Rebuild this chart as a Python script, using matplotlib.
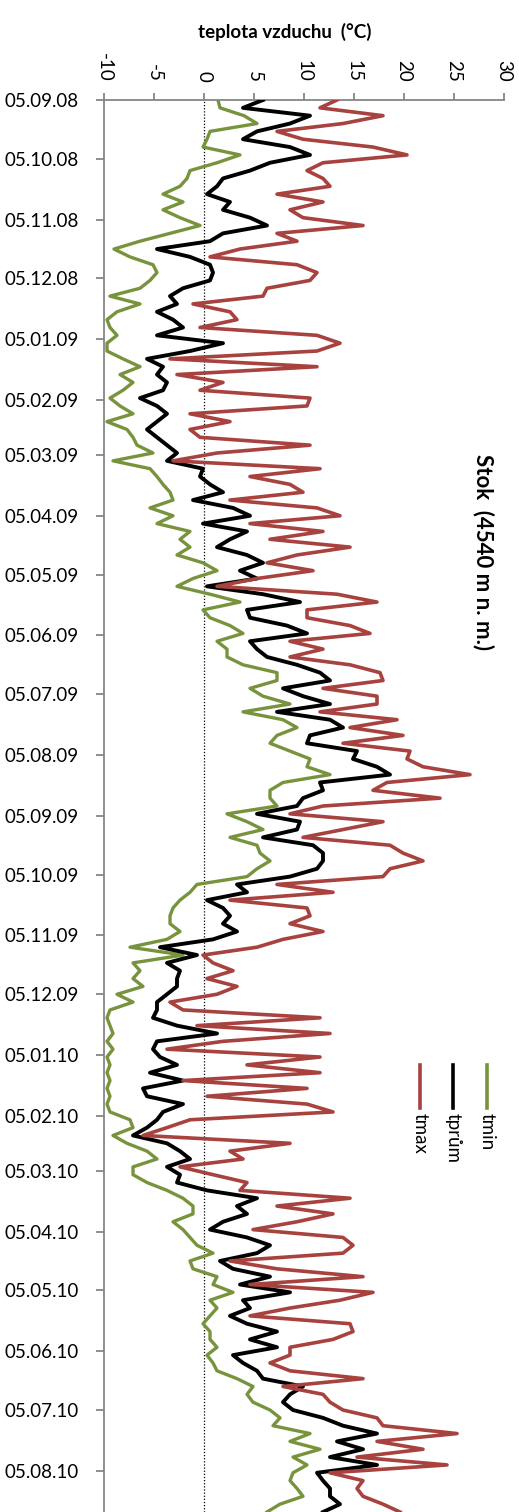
import numpy as np
import matplotlib.pyplot as plt
import matplotlib.dates as mdates
from matplotlib.lines import Line2D

plt.rcParams['font.family'] = ['Lato', 'DejaVu Sans']

# daily series read every 4 days, starting 05.09.2008
start = np.datetime64('2008-09-05')
step = 4

tmin = [1.4, 1.6, 4.0, 5.3, 0.6, 0.3, -0.1, 3.6, 1.3, -1.4, -1.7, -2.4, -4.1, -2.1, -4.1, -2.4,
        -0.4, -3.4, -6.4, -9.0, -7.4, -5.1, -4.7, -5.4, -6.4, -9.4, -6.4, -8.7, -9.7, -9.4, -8.7, -9.7,
        -9.7,
        -8.1, -6.4, -8.4, -7.1, -8.1, -9.4, -8.4, -7.1, -9.7, -7.7, -7.1, -6.7, -5.1, -9.1, -5.4, -4.7,
        -4.1, -3.4, -3.1, -5.4, -3.1, -4.7, -1.4, -2.4, -1.4, -2.7, -0.1, 1.3, -1.1, -2.7, 0.6, 3.6,
        -0.1,
        0.6, 2.6, 3.9, 1.3, 2.3, 2.3, 3.9, 7.3, 7.3, 4.6, 5.9, 8.6, 3.9, 7.9, 9.3, 7.3,
        6.6,
        8.6, 10.6, 10.3, 12.6, 7.9, 6.6, 6.6, 7.3, 2.3, 4.3, 5.9, 2.6, 5.3, 5.6, 6.6, 5.3,
        4.3, -0.7, -1.4, -2.4, -3.1, -3.4, -3.4, -2.4, -3.7, -7.4, -2.1, -7.1, -6.4, -7.1, -6.1, -8.7, -7.1,
        -9.4, -9.7, -9.4, -9.1, -9.7, -9.1, -9.7, -9.4, -9.7, -9.4, -9.7, -9.4, -9.7, -9.4, -7.4, -7.1,
        -9.1, -7.7, -5.7, -4.7, -7.1, -7.1, -5.7, -3.7, -2.1, -1.1, -1.1, -3.1, -2.1, -1.4, -0.7, 0.9, -1.4,
        -1.1, 1.3, 0.9, 2.9, 0.6, 1.3, 0.6, -0.1, 0.6, 0.6, 1.3, 0.3, 0.9, 1.3, 3.3, 4.9, 4.3,
        4.9, 6.6, 7.6, 6.9, 10.6, 8.6, 11.6, 8.9, 10.3, 8.9, 8.6, 9.3, 9.9, 7.6, 6.3]

tprum = [5.9, 3.9, 10.6, 8.6, 5.3, 3.9, 8.6, 10.6, 6.6, 4.6, 1.9, 1.3, 0.3, 2.6, 1.9, 4.6,
         6.3, 1.9, 0.6, -4.7, -1.4, 0.6, 0.9, 0.6, -2.1, -3.4, -2.7, -4.7, -3.1, -2.1, -4.7, 1.9,
         -1.4,
         -5.7, -4.1, -4.7, -3.7, -4.1, -6.4, -4.7, -3.7, -4.7, -5.7, -4.7, -3.7, -2.7, -3.7, -0.1, -0.4,
         0.6, 1.9, -1.1, 2.9, 4.6, -0.1, 4.3, 2.6, 1.3, 4.3, 5.9, 3.6, 5.3, 0.3, 5.9, 9.6,
         4.3,
         4.6, 8.3, 10.3, 4.6, 5.3, 6.3, 9.3, 11.6, 12.6, 7.9, 9.9, 12.6, 7.3, 12.6, 13.9, 10.6,
         10.3,
         15.3, 14.9, 17.3, 18.6, 11.6, 11.9, 9.9, 9.3, 5.3, 9.6, 9.3, 5.9, 10.9, 11.9, 11.9, 11.3,
         8.6, 3.3, 4.3, 0.3, 1.9, 2.6, 1.9, 3.3, 0.9, -4.4, -0.7, -3.7, -2.4, -2.7, -2.7, -3.7, -4.7,
         -4.7, -5.1, -2.7, 1.3, -4.7, -5.1, -4.4, -2.7, -5.4, -2.1, -6.1, -5.7, -2.1, -4.1, -4.7, -5.7,
         -7.1, -3.7, -2.4, -1.4, -3.7, -2.4, -2.7, 0.3, 5.3, 3.3, 4.3, 1.9, 0.6, 4.3, 6.6, 5.3, 1.6,
         2.9, 6.6, 3.6, 8.6, 3.9, 4.6, 2.6, 4.3, 7.3, 4.6, 7.3, 2.9, 3.9, 5.3, 5.9, 9.9, 8.6,
         7.9, 8.9, 11.9, 13.9, 17.3, 13.3, 15.9, 12.6, 17.3, 11.3, 11.9, 12.6, 12.6, 13.6, 11.9]

tmax = [13.3, 11.6, 17.9, 13.9, 7.3, 9.9, 16.9, 20.3, 11.9, 10.3, 11.9, 12.6, 7.3, 11.9, 8.6, 9.9,
        15.9, 7.3, 9.3, 3.6, 0.6, 9.3, 11.3, 10.6, 6.3, 5.9, -1.1, 2.6, 3.3, -0.4, 11.3, 13.6,
        11.3,
        -3.4, 11.3, -2.7, 1.9, -0.4, 10.6, 10.3, -1.4, 2.6, -1.4, -0.4, 10.6, 1.3, -3.1, 11.6, 4.6,
        8.6, 9.9, 2.6, 11.3, 13.6, 4.6, 11.9, 6.6, 14.6, 9.3, 6.3, 10.9, 5.3, 1.3, 13.3, 17.3,
        10.3,
        10.3, 14.6, 16.6, 8.6, 11.9, 8.6, 14.6, 17.6, 17.9, 11.9, 17.3, 17.3, 11.6, 19.3, 14.6, 19.9,
        13.9,
        20.6, 20.3, 21.9, 26.6, 18.3, 16.9, 23.6, 11.9, 8.6, 17.9, 13.9, 9.9, 18.6, 19.9, 21.9, 18.6,
        17.9, 7.3, 12.9, 2.6, 10.3, 10.6, 8.6, 11.9, 7.9, 5.3, -0.1, 0.9, 2.9, 0.3, 3.3, 1.3, -3.4,
        -2.1, 11.6, -0.7, 12.6, 1.9, -3.7, 11.6, 4.3, 11.6, -2.1, 10.3, 0.3, 10.3, 12.9, -1.4, -3.7,
        -6.1, 8.6, 2.6, 3.9, -2.4, 0.9, 4.3, 3.6, 14.6, 7.3, 12.9, 9.3, 4.9, 13.9, 14.9, 13.9, 2.6,
        7.3, 15.9, 4.6, 16.9, 13.6, 8.6, 4.6, 14.6, 14.9, 12.9, 8.6, 8.6, 6.6, 8.6, 15.9, 7.9, 11.9,
        12.6, 13.9, 17.3, 17.9, 25.3, 17.3, 21.9, 15.3, 24.3, 12.6, 15.9, 15.3, 15.9, 17.9, 19.6]

series_names = ['tmin', 'tprům', 'tmax']
x_ticks = [-10, -5, 0, 5, 10, 15, 20, 25, 30]

dates = start + np.arange(len(tmin)) * np.timedelta64(step, 'D')

c_min = '#77933C'
c_avg = 'black'
c_max = '#A8423F'
grey = '#868686'

W, H = 519, 1512
fig = plt.figure(figsize=(W / 100, H / 100), dpi=100)
ax = fig.add_axes([104 / W, 0, 400 / W, 1 - 100 / H])

ax.axvline(0, color='black', lw=0.9, ls=(0, (1, 1.5)), zorder=1)
ax.plot(tmin, dates, color=c_min, lw=2.4, zorder=2)
ax.plot(tprum, dates, color=c_avg, lw=2.8, zorder=3)
ax.plot(tmax, dates, color=c_max, lw=2.6, zorder=4)

ax.set_xlim(-10, 30)
ax.set_ylim(start + np.timedelta64(720, 'D'), start)

ax.yaxis.set_major_locator(mdates.MonthLocator(bymonthday=5))
ax.yaxis.set_major_formatter(mdates.DateFormatter('%d.%m.%y'))

ax.xaxis.tick_top()
ax.set_xticks(x_ticks)
ax.set_xticklabels([str(v) for v in x_ticks], rotation=-90)

for s in ['right', 'bottom']:
    ax.spines[s].set_visible(False)
for s in ['left', 'top']:
    ax.spines[s].set_color(grey)
    ax.spines[s].set_linewidth(1.3)

ax.tick_params(axis='x', direction='out', length=5, width=1.3, color=grey,
               labelsize=13.5, pad=8)
ax.tick_params(axis='y', direction='out', length=6, width=1.3, color=grey,
               labelsize=13.5, pad=12)

fig.text(285 / W, 1 - 32 / H, 'teplota vzduchu  (°C)', ha='center', va='center',
         fontsize=13.5, fontweight='bold')
fig.text(483 / W, 1 - 552 / H, 'Stok  (4540 m n. m.)', ha='center', va='center',
         rotation=-90, fontsize=16, fontweight='bold')

# legend, rotated like the rest of the chart
for name, col, xp in zip(series_names, [c_min, c_avg, c_max], [487, 453, 420]):
    fig.add_artist(Line2D([xp / W, xp / W], [1 - 1065 / H, 1 - 1108 / H],
                          color=col, lw=2.6))
    fig.text(xp / W, 1 - 1113 / H, name, ha='center', va='top', rotation=-90,
             fontsize=13.5)

fig.savefig('out.png', dpi=100)
